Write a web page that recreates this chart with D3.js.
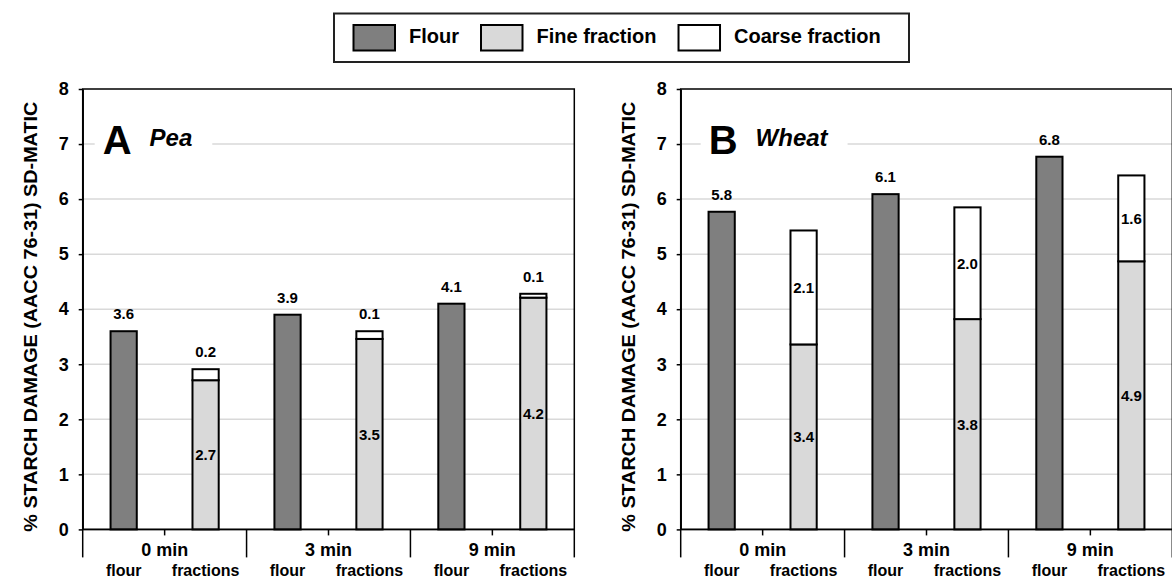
<!DOCTYPE html>
<html>
<head>
<meta charset="utf-8">
<script src="https://cdn.jsdelivr.net/npm/d3@7"></script>
<style>
  body { margin: 0; background: #fff; }
  svg { display: block; font-family: "Liberation Sans", Arial, sans-serif; }
</style>
</head>
<body>
<svg id="chart"></svg>
<script>
// data
const groups = ["0 min", "3 min", "9 min"]
const subLabels = ["flour", "fractions"]
const yTicks = [0, 1, 2, 3, 4, 5, 6, 7, 8]
const legendItems = ["Flour", "Fine fraction", "Coarse fraction"]

const peaFlour = [3.6, 3.9, 4.1]
const peaFine = [2.71, 3.46, 4.21]
const peaCoarse = [0.2, 0.14, 0.07]

const wheatFlour = [5.77, 6.09, 6.77]
const wheatFine = [3.36, 3.82, 4.87]
const wheatCoarse = [2.07, 2.03, 1.56]

const colors = { flour: "#7f7f7f", fine: "#d9d9d9", coarse: "#ffffff" }
const fmt = d3.format(".1f")

let svg = d3.select('#chart')
            .attr("width", 1172)
            .attr("height", 578)

let y = d3.scaleLinear().domain([0, 8]).range([529.4, 89])

let drawPanel = (x0, letter, species, flour, fine, coarse, letterDx) => {
    let plotW = 491.6
    let g = svg.append('g')

    let x = d3.scaleBand().domain(groups).range([x0, x0 + plotW])
    let xs = d3.scaleBand().domain(subLabels).range([0, x.bandwidth()])
                .paddingInner(0.68).paddingOuter(0.34)

    // gridlines
    g.selectAll('.grid')
        .data(yTicks.filter(t => t > 0 && t < 8))
        .enter()
        .append('line')
        .attr('x1', x0).attr('x2', x0 + plotW)
        .attr('y1', d => y(d)).attr('y2', d => y(d))
        .attr('stroke', '#d9d9d9')
        .attr('stroke-width', 1.5)

    // panel title with white box over gridline
    let title = g.append('g')
    let tl = title.append('text')
        .attr('x', x0 + letterDx)
        .attr('y', y(7) + 10)
        .attr('font-size', '40px')
        .attr('font-weight', 'bold')
        .text(letter)
    let lw = tl.node().getComputedTextLength()
    let ts = title.append('text')
        .attr('x', x0 + letterDx + lw + 18)
        .attr('y', y(7) + 2)
        .attr('font-size', '24px')
        .attr('font-weight', 'bold')
        .attr('font-style', 'italic')
        .text(species)
    let sw = ts.node().getComputedTextLength()
    title.insert('rect', 'text')
        .attr('x', x0 + letterDx - 8)
        .attr('y', y(7) - 6)
        .attr('width', lw + 18 + sw + 28)
        .attr('height', 12)
        .attr('fill', '#fff')

    // plot border
    g.append('rect')
        .attr('x', x0).attr('y', y(8))
        .attr('width', plotW).attr('height', y(0) - y(8))
        .attr('fill', 'none')
        .attr('stroke', '#000')
        .attr('stroke-width', 1.5)

    // y axis
    let yAxis = g.append('g')
        .attr('transform', 'translate(' + x0 + ',0)')
        .call(d3.axisLeft(y).tickValues(yTicks).tickSize(4).tickSizeOuter(0).tickPadding(10).tickFormat(d3.format('d')))
    yAxis.select('.domain').attr('stroke-width', 1.5)
    yAxis.selectAll('.tick line').attr('stroke-width', 1.5)
    yAxis.selectAll('.tick text')
        .attr('font-size', '18px')
        .attr('font-weight', 'bold')
        .attr('font-family', '"Liberation Sans", Arial, sans-serif')
        .attr('fill', '#000')

    g.append('text')
        .attr('transform', 'translate(' + (x0 - 45.7) + ',' + 316.7 + ') rotate(-90)')
        .attr('text-anchor', 'middle')
        .attr('font-size', '19px')
        .attr('font-weight', 'bold')
        .attr('textLength', 430)
        .attr('lengthAdjust', 'spacingAndGlyphs')
        .text('% STARCH DAMAGE (AACC 76-31) SD-MATIC')

    // bars
    groups.forEach((grp, i) => {
        let gx = x(grp)
        let bw = xs.bandwidth()
        let fx = gx + xs('flour')
        let cx = gx + xs('fractions')

        g.append('rect')
            .attr('x', fx).attr('y', y(flour[i]))
            .attr('width', bw).attr('height', y(0) - y(flour[i]))
            .attr('fill', colors.flour)
            .attr('stroke', '#000').attr('stroke-width', 2)
        g.append('text')
            .attr('x', fx + bw / 2).attr('y', y(flour[i]) - 12)
            .attr('text-anchor', 'middle')
            .attr('font-size', '15px').attr('font-weight', 'bold')
            .text(fmt(flour[i]))

        g.append('rect')
            .attr('x', cx).attr('y', y(fine[i]))
            .attr('width', bw).attr('height', y(0) - y(fine[i]))
            .attr('fill', colors.fine)
            .attr('stroke', '#000').attr('stroke-width', 2)
        g.append('rect')
            .attr('x', cx).attr('y', y(fine[i] + coarse[i]))
            .attr('width', bw).attr('height', y(fine[i]) - y(fine[i] + coarse[i]))
            .attr('fill', colors.coarse)
            .attr('stroke', '#000').attr('stroke-width', 2)

        // fine label inside segment
        let fineMid = (y(0) + y(fine[i])) / 2
        let ft = g.append('text')
            .attr('x', cx + bw / 2).attr('y', fineMid + 5.5)
            .attr('text-anchor', 'middle')
            .attr('font-size', '15px').attr('font-weight', 'bold')
            .text(fmt(fine[i]))
        let fw = ft.node().getComputedTextLength()
        g.insert('rect', () => ft.node())
            .attr('x', cx + bw / 2 - fw / 2 - 1).attr('y', fineMid - 9)
            .attr('width', fw + 2).attr('height', 18)
            .attr('fill', colors.fine)

        // coarse label: above the bar when the segment is thin
        let segH = y(fine[i]) - y(fine[i] + coarse[i])
        if (segH < 20) {
            g.append('text')
                .attr('x', cx + bw / 2).attr('y', y(fine[i] + coarse[i]) - 12)
                .attr('text-anchor', 'middle')
                .attr('font-size', '15px').attr('font-weight', 'bold')
                .text(fmt(coarse[i]))
        } else {
            let cMid = (y(fine[i]) + y(fine[i] + coarse[i])) / 2
            let ct = g.append('text')
                .attr('x', cx + bw / 2).attr('y', cMid + 5.5)
                .attr('text-anchor', 'middle')
                .attr('font-size', '15px').attr('font-weight', 'bold')
                .text(fmt(coarse[i]))
            let cw = ct.node().getComputedTextLength()
            g.insert('rect', () => ct.node())
                .attr('x', cx + bw / 2 - cw / 2 - 1).attr('y', cMid - 9)
                .attr('width', cw + 2).attr('height', 18)
                .attr('fill', colors.coarse)
        }
    })

    // x axis
    g.append('line')
        .attr('x1', x0).attr('x2', x0 + plotW)
        .attr('y1', y(0)).attr('y2', y(0))
        .attr('stroke', '#000').attr('stroke-width', 1.5)
    let seps = groups.map(d => x(d)).concat([x0 + plotW])
    g.selectAll('.sep')
        .data(seps)
        .enter()
        .append('line')
        .attr('x1', d => d).attr('x2', d => d)
        .attr('y1', y(0)).attr('y2', y(0) + 28)
        .attr('stroke', '#000').attr('stroke-width', 1.5)
    g.selectAll('.mid')
        .data(groups)
        .enter()
        .append('line')
        .attr('x1', d => x(d) + x.bandwidth() / 2).attr('x2', d => x(d) + x.bandwidth() / 2)
        .attr('y1', y(0)).attr('y2', y(0) + 6)
        .attr('stroke', '#000').attr('stroke-width', 1.5)
    g.selectAll('.glabel')
        .data(groups)
        .enter()
        .append('text')
        .attr('x', d => x(d) + x.bandwidth() / 2)
        .attr('y', 556)
        .attr('text-anchor', 'middle')
        .attr('font-size', '18px').attr('font-weight', 'bold')
        .text(d => d)
    groups.forEach(grp => {
        subLabels.forEach(s => {
            g.append('text')
                .attr('x', x(grp) + xs(s) + xs.bandwidth() / 2)
                .attr('y', 576)
                .attr('text-anchor', 'middle')
                .attr('font-size', '16px').attr('font-weight', 'bold')
                .text(s)
        })
    })
}

drawPanel(82.7, 'A', 'Pea', peaFlour, peaFine, peaCoarse, 20)
drawPanel(680.7, 'B', 'Wheat', wheatFlour, wheatFine, wheatCoarse, 28)

// legend
let legend = svg.append('g')
legend.append('rect')
    .attr('x', 334).attr('y', 13.5)
    .attr('width', 575).attr('height', 48.5)
    .attr('fill', '#fff')
    .attr('stroke', '#222').attr('stroke-width', 2)
let lx = 353.5
let legendFills = [colors.flour, colors.fine, colors.coarse]
legendItems.forEach((name, i) => {
    legend.append('rect')
        .attr('x', lx).attr('y', 25)
        .attr('width', 41.5).attr('height', 25.5)
        .attr('fill', legendFills[i])
        .attr('stroke', '#000').attr('stroke-width', 2)
    let t = legend.append('text')
        .attr('x', lx + 55.5).attr('y', 42.5)
        .attr('font-size', '20px').attr('font-weight', 'bold')
        .text(name)
    lx = lx + 55.5 + t.node().getComputedTextLength() + 22
})
</script>
</body>
</html>
